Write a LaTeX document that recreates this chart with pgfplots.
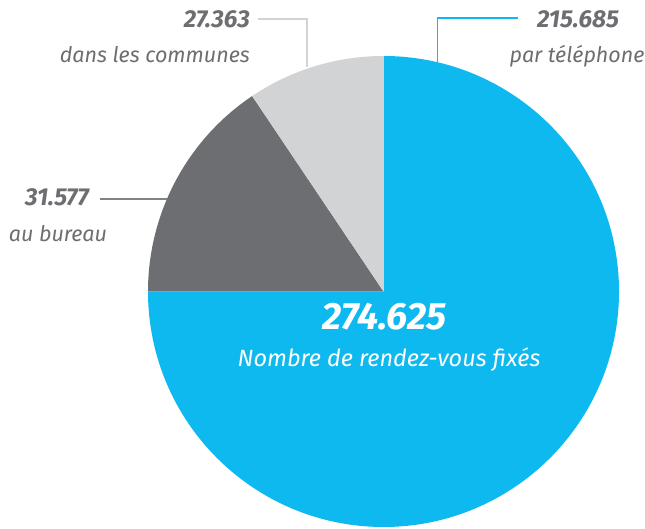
\documentclass[border=0pt]{standalone}
\usepackage{pgfplots}
\pgfplotsset{compat=1.18}
\usepackage{fontspec}
\setmainfont{Fira Sans}
\definecolor{piblue}{HTML}{0DB9EE}
\definecolor{pidark}{HTML}{6D6E71}
\definecolor{pilight}{HTML}{D1D3D4}
\definecolor{txtgray}{HTML}{6D6E71}
\definecolor{leadgray}{HTML}{808285}
\begin{document}
\begin{tikzpicture}
\begin{axis}[
  scale only axis, width=645pt, height=529pt,
  xmin=0, xmax=645, ymin=0, ymax=529,
  hide axis, clip=false,
]
% slices: values 215.685 (par telephone), 31.577 (au bureau), 27.363 (dans les communes); total 274.625
\fill[piblue] (axis cs:383.5,237.5) -- +(90:235.5pt) arc[start angle=90, end angle=-180, radius=235.5pt] -- cycle;
\fill[pidark] (axis cs:383.5,237.5) -- +(180:235.5pt) arc[start angle=180, end angle=123.9, radius=235.5pt] -- cycle;
\fill[pilight] (axis cs:383.5,237.5) -- +(123.9:235.5pt) arc[start angle=123.9, end angle=90, radius=235.5pt] -- cycle;
% leader lines
\draw[pilight, line width=1.4pt] (axis cs:258,510) -- (axis cs:307,510) -- (axis cs:307,462);
\draw[piblue, line width=1.4pt] (axis cs:437.7,466) -- (axis cs:437.7,511) -- (axis cs:518,511);
\draw[leadgray, line width=1.4pt] (axis cs:100,330) -- (axis cs:167,330);
% labels
\node[anchor=east, inner sep=0, text=txtgray, font=\fontsize{24.5}{28}\selectfont\bfseries\itshape] at (axis cs:250,510) {27.363};
\node[anchor=base east, inner sep=0, text=txtgray, font=\fontsize{21.5}{25}\selectfont\itshape] at (axis cs:250,466) {dans les communes};
\node[anchor=center, inner sep=0, text=txtgray, font=\fontsize{24.5}{28}\selectfont\bfseries\itshape] at (axis cs:578,510) {215.685};
\node[anchor=base, inner sep=0, text=txtgray, font=\fontsize{21.5}{25}\selectfont\itshape] at (axis cs:577,466) {par téléphone};
\node[anchor=center, inner sep=0, text=txtgray, font=\fontsize{24.5}{28}\selectfont\bfseries\itshape] at (axis cs:57,331.5) {31.577};
\node[anchor=base, inner sep=0, text=txtgray, font=\fontsize{21.5}{25}\selectfont\itshape] at (axis cs:58,287.3) {au bureau};
\node[anchor=center, inner sep=0, text=white, font=\fontsize{38}{42}\selectfont\bfseries\itshape] at (axis cs:384.5,212.5) {274.625};
\node[anchor=base, inner sep=0, text=white, font=\fontsize{23.5}{27}\selectfont\itshape] at (axis cs:389,162.3) {Nombre de rendez-vous fixés};
\end{axis}
\pgfresetboundingbox
\path (0,0) rectangle (645pt,529pt);
\end{tikzpicture}
\end{document}
